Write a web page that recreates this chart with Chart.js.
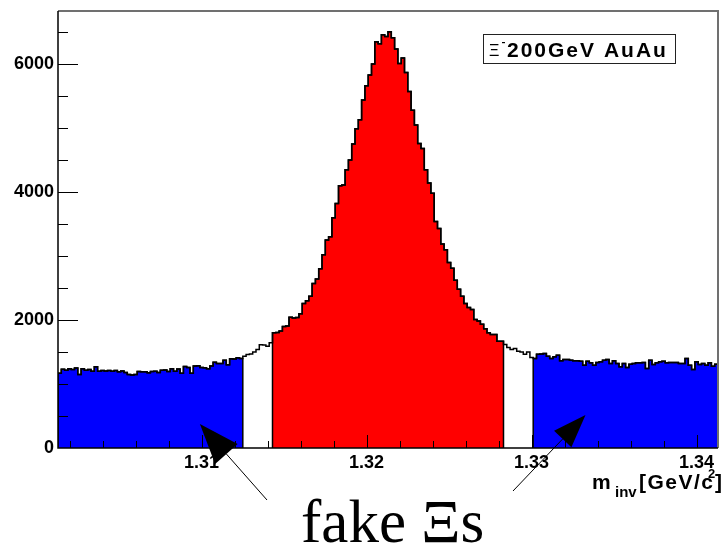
<!DOCTYPE html>
<html>
<head>
<meta charset="utf-8">
<title>Xi invariant mass</title>
<script src="https://cdn.jsdelivr.net/npm/chart.js@4.4.1/dist/chart.umd.min.js"></script>
<style>
  html, body { margin: 0; padding: 0; background: #fff; }
  canvas { display: block; }
</style>
</head>
<body>
<canvas id="xiChart" width="722" height="551"></canvas>
<script>
// binning of the m_inv histogram (GeV/c^2)
const xMin = 1.3013;
const binWidth = 0.0002;

// counts per bin, split by the way each range is drawn
const leftSideband = [
  1170, 1230, 1215, 1240, 1225, 1250, 1150, 1240, 1215, 1225,
  1200, 1270, 1200, 1210, 1205, 1210, 1200, 1210, 1190, 1205,
  1180, 1150, 1140, 1150, 1195, 1190, 1190, 1175, 1195, 1200,
  1180, 1215, 1220, 1195, 1240, 1200, 1235, 1170, 1275, 1260,
  1170, 1280, 1285, 1260, 1255, 1240, 1280, 1340, 1320, 1320,
  1370, 1300, 1395, 1390, 1410, 1400
];
const leftGap = [1435, 1460, 1470, 1500, 1540, 1615, 1610, 1590, 1645];
const peakCounts = [
  1800, 1805, 1830, 1900, 1905, 2045, 2030, 2040, 2100, 2260,
  2300, 2370, 2570, 2640, 2800, 3020, 3250, 3300, 3600, 3820,
  4100, 4110, 4350, 4500, 4750, 4990, 5130, 5440, 5660, 5830,
  6000, 6350, 6320, 6460, 6430, 6505, 6410, 6235, 6010, 6095,
  5870, 5570, 5280, 5050, 4760, 4680, 4350, 4140, 3980, 3540,
  3430, 3190, 3100, 2900, 2810, 2620, 2480, 2370, 2260, 2195,
  2165, 2010, 1985, 1935, 1865, 1800, 1775, 1775, 1670, 1670
];
const rightGap = [1617, 1571, 1540, 1555, 1513, 1500, 1466, 1500, 1415];
const rightSideband = [
  1400, 1466, 1470, 1477, 1435, 1400, 1425, 1450, 1362, 1383,
  1383, 1373, 1362, 1362, 1357, 1295, 1357, 1331, 1295, 1336,
  1347, 1373, 1383, 1321, 1362, 1321, 1269, 1321, 1258, 1310,
  1321, 1331, 1331, 1336, 1243, 1373, 1305, 1331, 1347, 1357,
  1331, 1336, 1336, 1336, 1321, 1321, 1399, 1295, 1227, 1347,
  1305, 1321, 1295, 1331, 1279, 1310
];

const xTicks = [1.31, 1.32, 1.33, 1.34];
const yTicks = [0, 2000, 4000, 6000];
const yMax = 6830;

const allCounts = [].concat(leftSideband, leftGap, peakCounts, rightGap, rightSideband);
const xMax = xMin + allCounts.length * binWidth;

// histogram outline as points on the bin edges; closed=true drops to 0 at both ends
function histPoints(counts, firstBin, closed) {
  const pts = [];
  const x0 = xMin + firstBin * binWidth;
  if (closed) pts.push({ x: x0, y: 0 });
  counts.forEach((c, i) => {
    pts.push({ x: x0 + i * binWidth, y: c });
    pts.push({ x: x0 + (i + 1) * binWidth, y: c });
  });
  if (closed) pts.push({ x: x0 + counts.length * binWidth, y: 0 });
  return pts;
}

const peakStart = leftSideband.length + leftGap.length;
const rightStart = peakStart + peakCounts.length + rightGap.length;

const boldFont = (size) => ({ family: '"Liberation Sans", Arial, sans-serif', weight: 'bold', size: size });

const decorations = {
  id: 'decorations',
  afterDatasetsDraw(chart) {
    const { ctx, chartArea: a } = chart;
    const xs = chart.scales.x;
    const ys = chart.scales.y;
    ctx.save();

    // frame
    ctx.strokeStyle = '#707070';
    ctx.lineWidth = 2;
    ctx.beginPath();
    ctx.moveTo(a.left, a.top);
    ctx.lineTo(a.right, a.top);
    ctx.lineTo(a.right, a.bottom);
    ctx.stroke();
    ctx.strokeStyle = '#000';
    ctx.lineWidth = 1.5;
    ctx.beginPath();
    ctx.moveTo(a.left, a.top);
    ctx.lineTo(a.left, a.bottom);
    ctx.lineTo(a.right, a.bottom);
    ctx.stroke();

    // ticks drawn inside the frame, ROOT style
    ctx.lineWidth = 1;
    ctx.beginPath();
    for (let k = Math.ceil(xMin / 0.002); k * 0.002 <= xMax; k++) {
      const px = Math.round(xs.getPixelForValue(k * 0.002)) + 0.5;
      ctx.moveTo(px, a.bottom);
      ctx.lineTo(px, a.bottom - 7);
    }
    xTicks.forEach((v) => {
      const px = Math.round(xs.getPixelForValue(v)) + 0.5;
      ctx.moveTo(px, a.bottom);
      ctx.lineTo(px, a.bottom - 13);
    });
    for (let v = 500; v < yMax; v += 500) {
      const py = Math.round(ys.getPixelForValue(v)) + 0.5;
      ctx.moveTo(a.left, py);
      ctx.lineTo(a.left + (v % 2000 === 0 ? 20 : 10), py);
    }
    ctx.stroke();

    // axis title m_inv [GeV/c^2]
    ctx.fillStyle = '#000';
    ctx.textBaseline = 'alphabetic';
    ctx.font = 'bold 21px "Liberation Sans", Arial, sans-serif';
    ctx.fillText('m', 592, 489);
    ctx.font = 'bold 15px "Liberation Sans", Arial, sans-serif';
    ctx.fillText('inv', 615, 497);
    ctx.font = 'bold 21px "Liberation Sans", Arial, sans-serif';
    if ('letterSpacing' in ctx) ctx.letterSpacing = '1.5px';
    ctx.fillText('[GeV/c', 639, 489);
    if ('letterSpacing' in ctx) ctx.letterSpacing = '0px';
    ctx.font = 'bold 13px "Liberation Sans", Arial, sans-serif';
    ctx.fillText('2', 708, 478);
    ctx.font = 'bold 21px "Liberation Sans", Arial, sans-serif';
    ctx.fillText(']', 715, 489);

    // legend box
    ctx.strokeStyle = '#222';
    ctx.lineWidth = 1;
    ctx.strokeRect(483.5, 34.5, 192, 29);
    ctx.font = '16px "Liberation Sans", Arial, sans-serif';
    ctx.fillText('\u039E', 489, 56);
    ctx.fillRect(502, 42, 3, 1.2);
    ctx.font = 'bold 21px "Liberation Sans", Arial, sans-serif';
    if ('letterSpacing' in ctx) ctx.letterSpacing = '2px';
    ctx.fillText('200GeV AuAu', 507, 57);
    if ('letterSpacing' in ctx) ctx.letterSpacing = '0px';

    // arrows pointing at the sidebands
    function arrow(tx, ty, fromX, fromY, len, width) {
      const dx = tx - fromX, dy = ty - fromY;
      const d = Math.hypot(dx, dy);
      const ux = dx / d, uy = dy / d;
      const bx = tx - ux * len, by = ty - uy * len;
      ctx.beginPath();
      ctx.moveTo(fromX, fromY);
      ctx.lineTo(bx, by);
      ctx.lineWidth = 1;
      ctx.strokeStyle = '#000';
      ctx.stroke();
      ctx.beginPath();
      ctx.moveTo(tx, ty);
      ctx.lineTo(bx - uy * width / 2, by + ux * width / 2);
      ctx.lineTo(bx + uy * width / 2, by - ux * width / 2);
      ctx.closePath();
      ctx.fill();
    }
    arrow(xs.getPixelForValue(1.3099), ys.getPixelForValue(375), 267, 500, 40, 30);
    arrow(xs.getPixelForValue(1.33327), ys.getPixelForValue(515), 513, 491, 33, 24);

    ctx.font = '61px "Liberation Serif", "Times New Roman", serif';
    ctx.fillText('fake \u039Es', 301, 542);

    ctx.restore();
  }
};

new Chart(document.getElementById('xiChart'), {
  type: 'line',
  data: {
    datasets: [
      {
        data: histPoints(allCounts, 0, false),
        borderColor: '#000',
        borderWidth: 1.5,
        fill: false
      },
      {
        data: histPoints(leftSideband, 0, true),
        borderColor: '#000',
        borderWidth: 1.5,
        backgroundColor: '#0000ff',
        fill: 'origin'
      },
      {
        data: histPoints(peakCounts, peakStart, true),
        borderColor: '#000',
        borderWidth: 1.5,
        backgroundColor: '#ff0000',
        fill: 'origin'
      },
      {
        data: histPoints(rightSideband, rightStart, true),
        borderColor: '#000',
        borderWidth: 1.5,
        backgroundColor: '#0000ff',
        fill: 'origin'
      }
    ]
  },
  options: {
    responsive: false,
    animation: false,
    events: [],
    elements: {
      point: { radius: 0 },
      line: { tension: 0, borderJoinStyle: 'miter' }
    },
    layout: { padding: { left: 0, top: 11, right: 4, bottom: 73 } },
    plugins: {
      legend: { display: false },
      tooltip: { enabled: false }
    },
    scales: {
      x: {
        type: 'linear',
        min: xMin,
        max: xMax,
        grid: { display: false, drawTicks: false },
        border: { display: false },
        afterBuildTicks: (scale) => { scale.ticks = xTicks.map((v) => ({ value: v })); },
        afterFit: (scale) => {
          scale.height = 30;
          scale.paddingLeft = 0;
          scale.paddingRight = 0;
        },
        ticks: {
          autoSkip: false,
          maxRotation: 0,
          padding: 4,
          color: '#000',
          font: boldFont(18),
          callback: (v) => Number(v).toFixed(2)
        }
      },
      y: {
        min: 0,
        max: yMax,
        grid: { display: false, drawTicks: false },
        border: { display: false },
        afterBuildTicks: (scale) => { scale.ticks = yTicks.map((v) => ({ value: v })); },
        afterFit: (scale) => {
          scale.width = 58;
          scale.paddingTop = 0;
          scale.paddingBottom = 0;
        },
        ticks: {
          padding: 4,
          color: '#000',
          font: boldFont(18),
          callback: (v) => String(v)
        }
      }
    }
  },
  plugins: [decorations]
});
</script>
</body>
</html>
